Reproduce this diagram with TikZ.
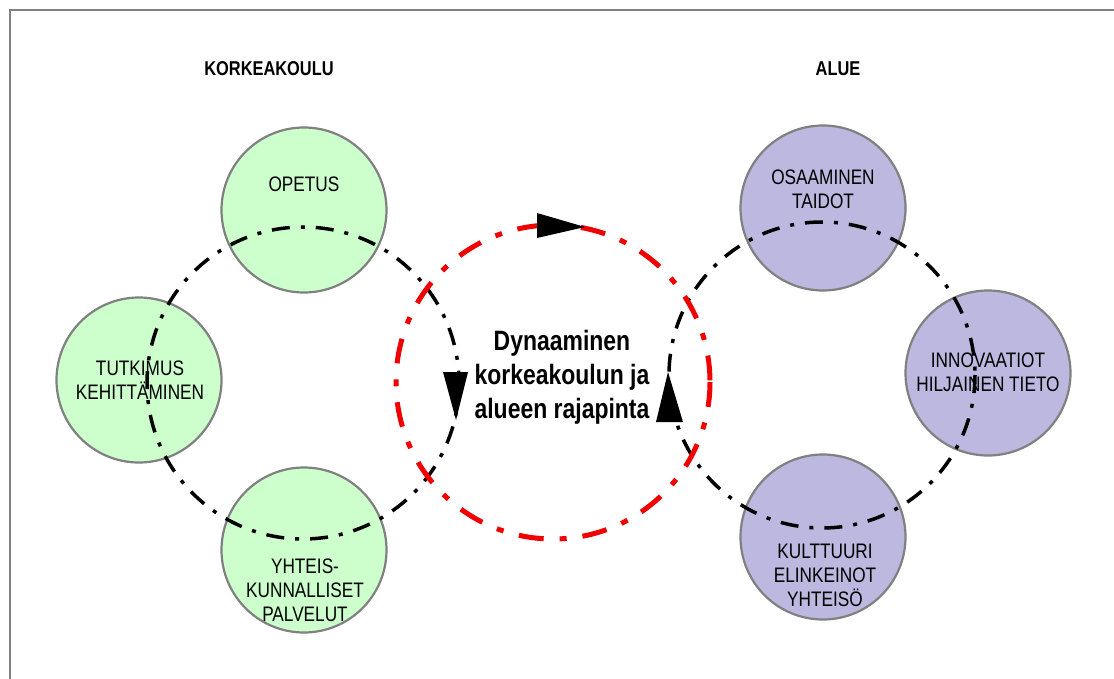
\documentclass[tikz,border=0pt]{standalone}
\usepackage{fontspec}
\setmainfont{Liberation Sans}[FakeStretch=0.82]
\definecolor{vihrea}{RGB}{204,255,204}
\definecolor{violetti}{RGB}{188,184,223}
\definecolor{reuna}{RGB}{128,128,128}
\definecolor{punainen}{RGB}{240,0,0}

\begin{document}
\begin{tikzpicture}[x=1pt,y=-1pt,
  pallo/.style={draw=reuna, line width=2.2pt, circle, minimum size=165pt, inner sep=0pt},
  kieto/.style={line width=3.5pt, dash pattern=on 18pt off 11pt on 4pt off 11pt},
  raja/.style={punainen, line width=5pt, dash pattern=on 25pt off 16pt on 7pt off 16pt},
  teksti/.style={align=center, inner sep=0pt, font=\fontsize{21}{24}\selectfont},
  otsikko/.style={inner sep=0pt, font=\bfseries\fontsize{20}{24}\selectfont}]
 \useasboundingbox (0,0) rectangle (1114,679);
 \draw[reuna, line width=2pt] (1120,10.5) -- (9.5,10.5) -- (9.5,690);

 \node[otsikko] (korkeakoulu) at (269,69) {KORKEAKOULU};
 \node[otsikko] (alue) at (838,69) {ALUE};

 % korkeakoulu
 \node[pallo, fill=vihrea] (opetus) at (304,210) {};
 \node[pallo, fill=vihrea] (tutkimus) at (139,380) {};
 \node[pallo, fill=vihrea] (yhteis) at (304,550) {};
 % alue
 \node[pallo, fill=violetti] (osaaminen) at (823,208) {};
 \node[pallo, fill=violetti] (innovaatiot) at (988,373) {};
 \node[pallo, fill=violetti] (kulttuuri) at (823,537) {};

 \node[teksti] (opetusT) at (304,184) {OPETUS};
 \node[teksti] (tutkimusT) at (140,380) {TUTKIMUS\\KEHITTÄMINEN};
 \node[teksti] (yhteisT) at (305,590) {YHTEIS-\\KUNNALLISET\\PALVELUT};
 \node[teksti] (osaaminenT) at (823,189) {OSAAMINEN\\TAIDOT};
 \node[teksti] (innovaatiotT) at (988,372) {INNOVAATIOT\\HILJAINEN TIETO};
 \node[teksti] (kulttuuriT) at (825,575) {KULTTUURI\\ELINKEINOT\\YHTEISÖ};

 % kehät
 \draw[kieto] (303,383) circle (156);
 \draw[kieto] (822,375) circle (153);
 \draw[raja] (553,382) circle (157);

 \fill (537,213) -- (585,227) -- (537,238) -- cycle;
 \fill (443,372) -- (468,372) -- (456,420) -- cycle;
 \fill (656,422) -- (683,422) -- (668,372) -- cycle;

 \node[align=center, inner sep=0pt, font=\bfseries\fontsize{28}{34}\selectfont] (rajapinta) at (562,377) {Dynaaminen\\korkeakoulun ja\\alueen rajapinta};
\end{tikzpicture}
\end{document}
